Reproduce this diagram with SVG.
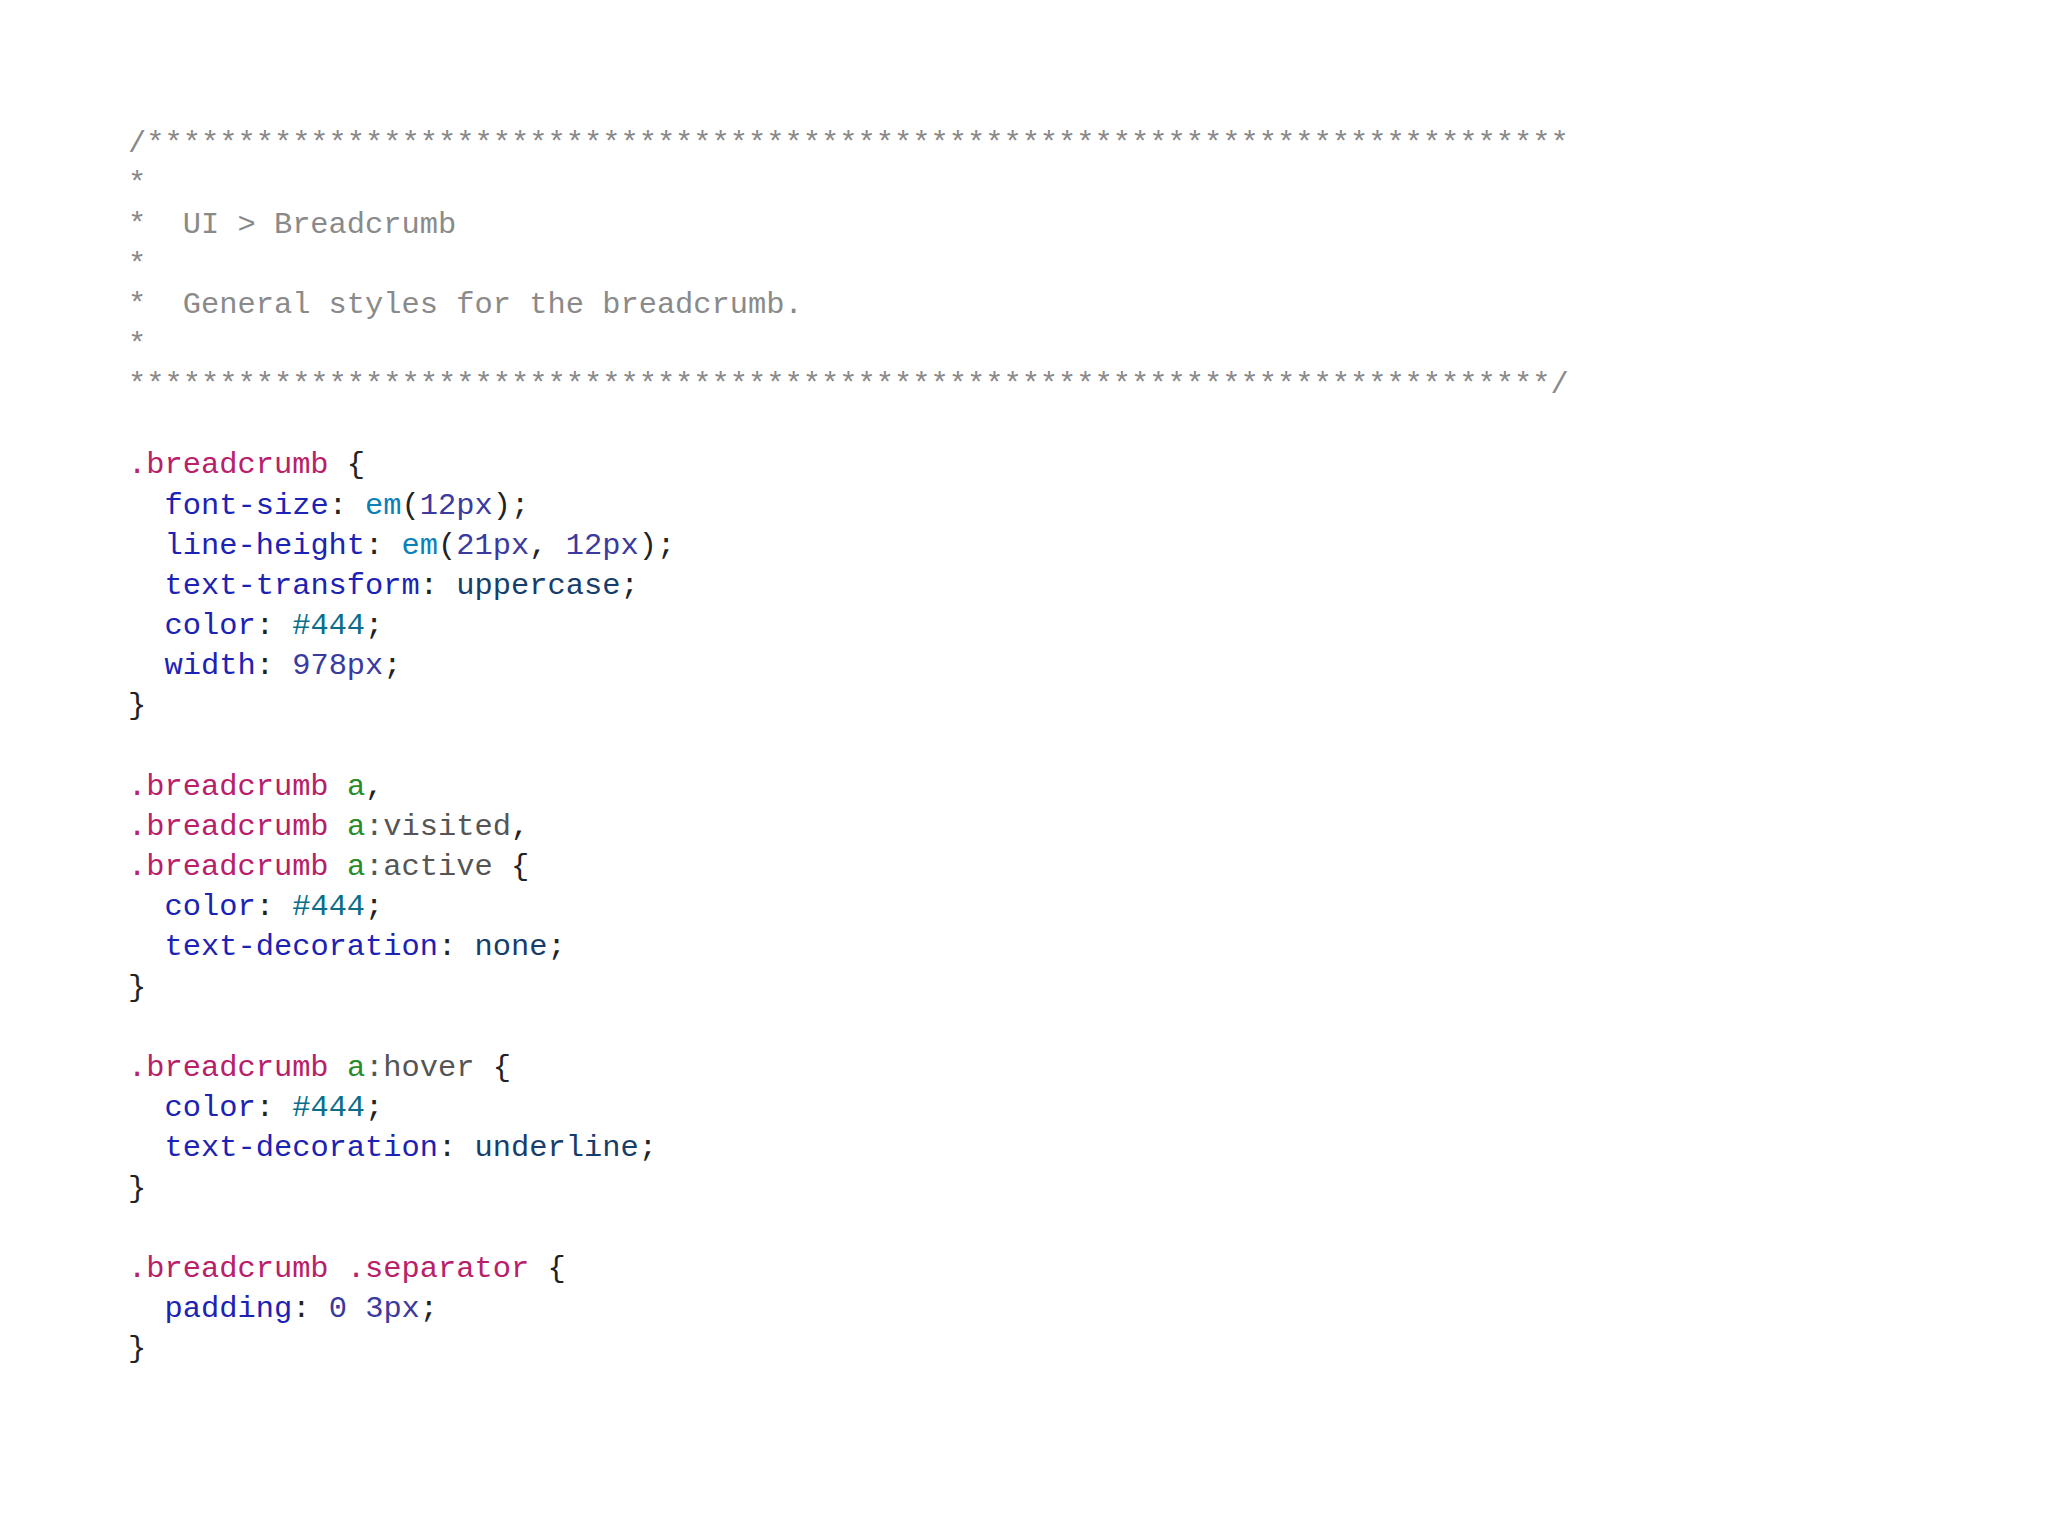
<svg xmlns="http://www.w3.org/2000/svg" width="2048" height="1536" viewBox="0 0 2048 1536">
<style>
text{font-family:"Liberation Mono","DejaVu Sans Mono",monospace;font-size:30.4px;fill:#222;white-space:pre}
.c{fill:#8a8a8a}.s{fill:#b8206a}.p{fill:#1c22b4}.f{fill:#0a80b8}.n{fill:#3a3aa0}.v{fill:#163e6a}.g{fill:#2a8a2a}.h{fill:#555}.x{fill:#0a6e8a}
</style>
<rect width="2048" height="1536" fill="#fff"/>
<g id="code" xml:space="preserve">
<text x="128" y="152" class="c">/******************************************************************************</text>
<text x="128" y="192" class="c">*</text>
<text x="128" y="233" class="c">*  UI &gt; Breadcrumb</text>
<text x="128" y="273" class="c">*</text>
<text x="128" y="313" class="c">*  General styles for the breadcrumb.</text>
<text x="128" y="353" class="c">*</text>
<text x="128" y="393" class="c">******************************************************************************/</text>
<text x="128" y="473"><tspan class="s">.breadcrumb</tspan> {</text>
<text x="128" y="514">  <tspan class="p">font-size</tspan>: <tspan class="f">em</tspan>(<tspan class="n">12px</tspan>);</text>
<text x="128" y="554">  <tspan class="p">line-height</tspan>: <tspan class="f">em</tspan>(<tspan class="n">21px</tspan>, <tspan class="n">12px</tspan>);</text>
<text x="128" y="594">  <tspan class="p">text-transform</tspan>: <tspan class="v">uppercase</tspan>;</text>
<text x="128" y="634">  <tspan class="p">color</tspan>: <tspan class="x">#444</tspan>;</text>
<text x="128" y="674">  <tspan class="p">width</tspan>: <tspan class="n">978px</tspan>;</text>
<text x="128" y="714">}</text>
<text x="128" y="795"><tspan class="s">.breadcrumb</tspan> <tspan class="g">a</tspan>,</text>
<text x="128" y="835"><tspan class="s">.breadcrumb</tspan> <tspan class="g">a</tspan><tspan class="h">:visited</tspan>,</text>
<text x="128" y="875"><tspan class="s">.breadcrumb</tspan> <tspan class="g">a</tspan><tspan class="h">:active</tspan> {</text>
<text x="128" y="915">  <tspan class="p">color</tspan>: <tspan class="x">#444</tspan>;</text>
<text x="128" y="955">  <tspan class="p">text-decoration</tspan>: <tspan class="v">none</tspan>;</text>
<text x="128" y="996">}</text>
<text x="128" y="1076"><tspan class="s">.breadcrumb</tspan> <tspan class="g">a</tspan><tspan class="h">:hover</tspan> {</text>
<text x="128" y="1116">  <tspan class="p">color</tspan>: <tspan class="x">#444</tspan>;</text>
<text x="128" y="1156">  <tspan class="p">text-decoration</tspan>: <tspan class="v">underline</tspan>;</text>
<text x="128" y="1197">}</text>
<text x="128" y="1277"><tspan class="s">.breadcrumb</tspan> <tspan class="s">.separator</tspan> {</text>
<text x="128" y="1317">  <tspan class="p">padding</tspan>: <tspan class="n">0</tspan> <tspan class="n">3px</tspan>;</text>
<text x="128" y="1357">}</text>
</g>
</svg>
